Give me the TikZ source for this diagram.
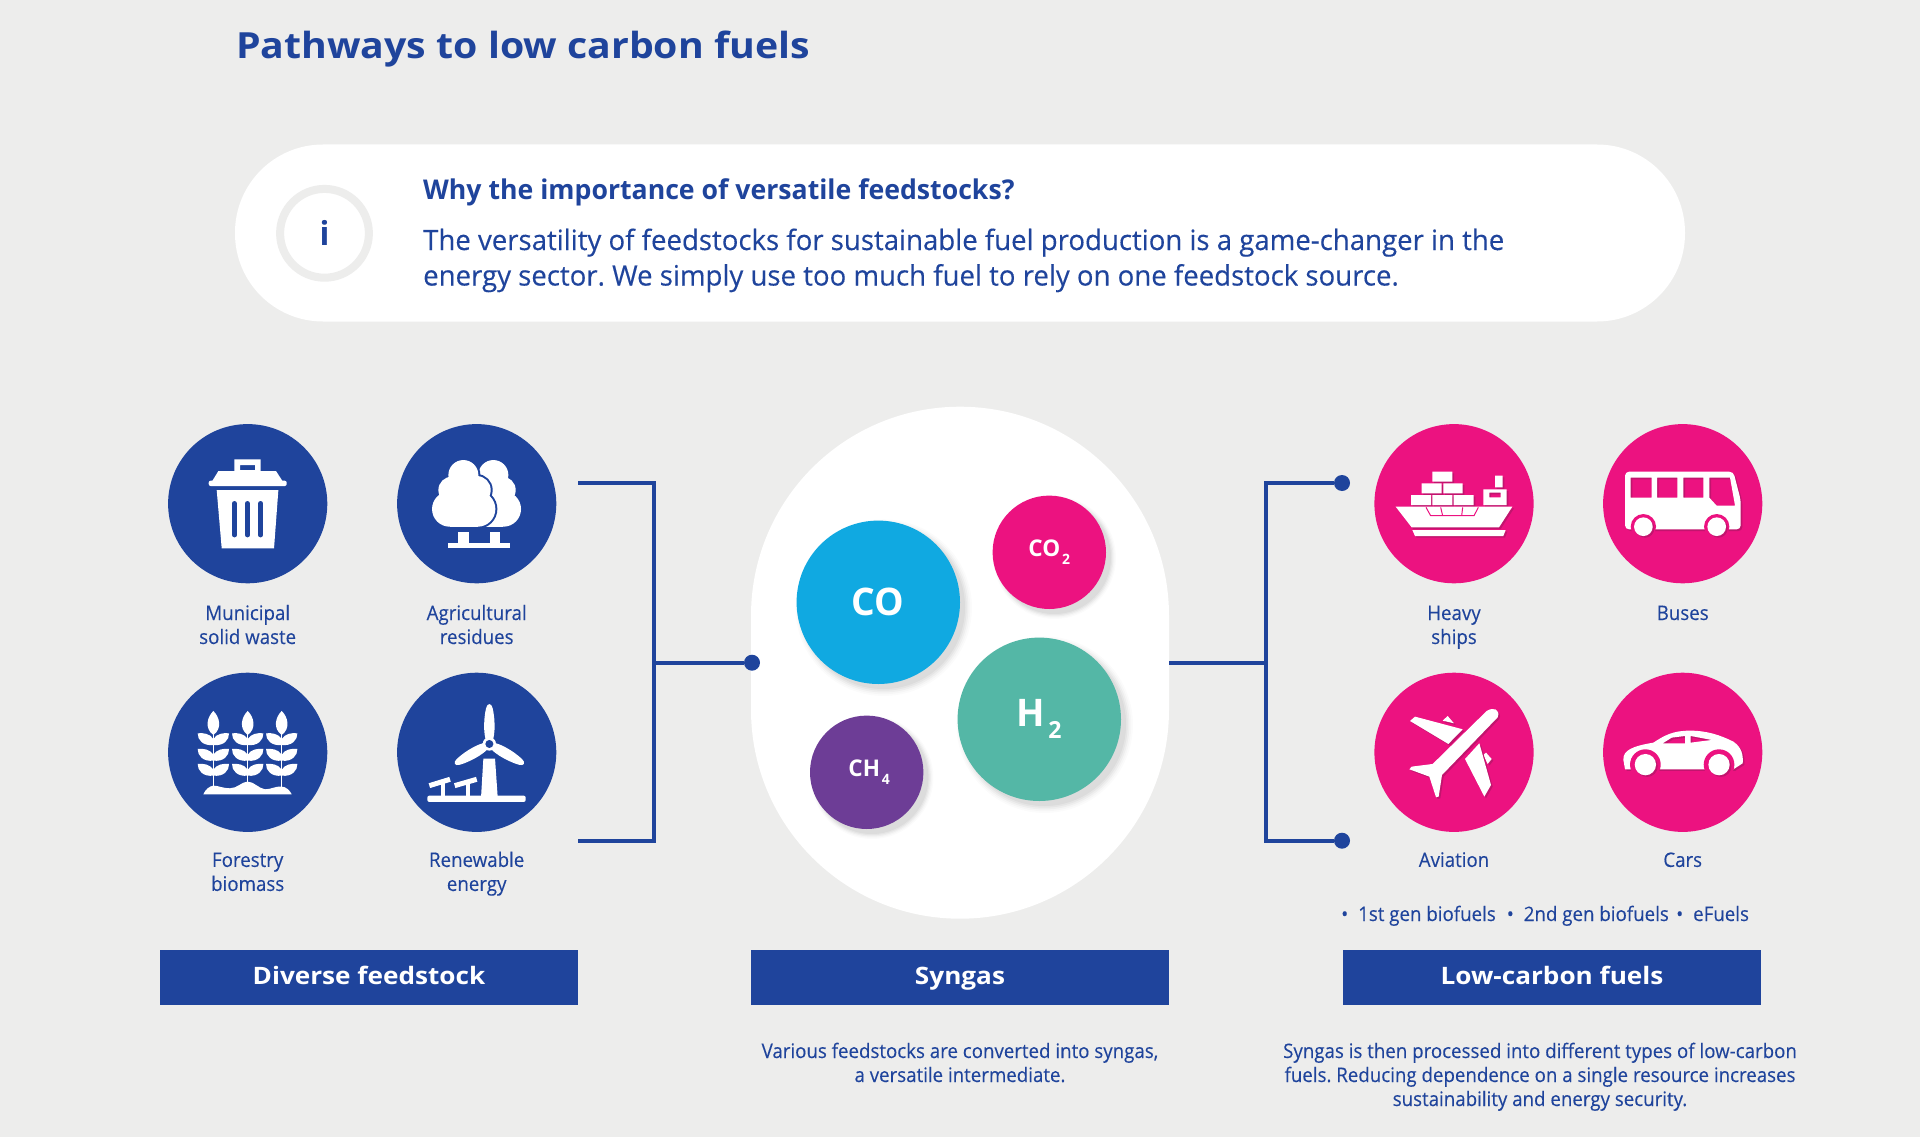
\documentclass[tikz,border=0pt]{standalone}
\usepackage{fontspec}
\setmainfont{Open Sans}
\newfontfamily\headfont[FakeStretch=1.09]{Open Sans}
\newfontfamily\infofont[FakeStretch=0.98]{Open Sans}
\newfontfamily\answerfont[FakeStretch=0.985, FakeBold=0.25]{Open Sans}
\newfontfamily\capfont[FakeStretch=0.935, FakeBold=0.2]{Open Sans}
\usetikzlibrary{positioning, shadows, calc}

\definecolor{brandblue}{HTML}{1F449C}
\definecolor{brandpink}{HTML}{EC1280}
\definecolor{iconshade}{HTML}{C2146E}
\definecolor{skyblue}{HTML}{10A9E1}
\definecolor{seagreen}{HTML}{54B7A6}
\definecolor{deeppurple}{HTML}{6D3D96}
\definecolor{pagegrey}{HTML}{EDEDEC}

% white icon with a dark copy behind it
\newcommand{\liftedicon}[1]{\fill[iconshade, shift={(5,5)}, even odd rule] #1; \fill[white, even odd rule] #1;}
\newcommand{\gassub}[1]{\kern.08em\raisebox{-.32em}{\scalebox{.62}{#1}}}
\newcommand{\fuelbullet}{\makebox[17pt][l]{•}}

\begin{document}
\frenchspacing
\begin{tikzpicture}[
    x=1pt, y=-1pt,
    feedcircle/.style={circle, fill=brandblue, minimum size=159.2pt, inner sep=0pt, outer sep=0pt},
    fuelcircle/.style={circle, fill=brandpink, minimum size=159.2pt, inner sep=0pt, outer sep=0pt},
    softshadow/.style={
        general shadow={shadow xshift=5pt, shadow yshift=-5pt, shadow scale=1.08, fill=black, opacity=.015},
        general shadow={shadow xshift=5pt, shadow yshift=-5pt, shadow scale=1.06, fill=black, opacity=.02},
        general shadow={shadow xshift=5pt, shadow yshift=-5pt, shadow scale=1.04, fill=black, opacity=.03},
        general shadow={shadow xshift=5pt, shadow yshift=-5pt, shadow scale=1.02, fill=black, opacity=.035},
        general shadow={shadow xshift=5pt, shadow yshift=-5pt, shadow scale=1, fill=black, opacity=.04}},
    largegas/.style={circle, softshadow, minimum size=163.4pt, inner sep=0pt, outer sep=0pt, text=white, font=\fontsize{38}{38}\selectfont\infofont\bfseries},
    smallgas/.style={circle, softshadow, minimum size=113.4pt, inner sep=0pt, outer sep=0pt, text=white, font=\fontsize{23}{23}\selectfont\infofont\bfseries},
    caption/.style={align=center, text=brandblue, inner sep=0pt, font=\fontsize{20}{24}\selectfont\capfont},
    banner/.style={rectangle, fill=brandblue, text=white, minimum width=418pt, minimum height=55pt, inner sep=0pt, outer sep=0pt, text height=18pt, text depth=5pt, font=\fontsize{24}{24}\selectfont\headfont\bfseries},
    hubdot/.style={circle, fill=brandblue, minimum size=16pt, inner sep=0pt, outer sep=0pt},
    link/.style={draw=brandblue, line width=4pt},
]
\fill[pagegrey] (0,0) rectangle (1920,1137);
\useasboundingbox (0,0) rectangle (1920,1137);

% Heading
\node[anchor=base west, inner sep=0pt, text=brandblue, font=\fontsize{36}{36}\selectfont\headfont\bfseries] (heading) at (236,58.7) {Pathways to low carbon fuels};

% Info box
\node[rectangle, fill=white, rounded corners=88pt, minimum width=1450pt, minimum height=177pt, inner sep=0pt] (infobox) at (960,233) {};
\node[circle, fill=white, draw=pagegrey, line width=8pt, minimum size=88.8pt, inner sep=0pt, text=brandblue, font=\fontsize{33}{33}\selectfont\infofont\bfseries] (infomark) at (324.5,233.3) {i};
\node[anchor=base west, inner sep=0pt, text=brandblue, font=\fontsize{27.2}{28}\selectfont\infofont\bfseries] (question) at (423,199) {Why the importance of versatile feedstocks?};
\node[anchor=base west, inner sep=0pt, align=left, text=brandblue, font=\fontsize{28}{35.5}\selectfont\answerfont] (answer) at (423,285.5) {The versatility of feedstocks for sustainable fuel production is a game-changer in the\\energy sector. We simply use too much fuel to rely on one feedstock source.};

% Feedstock circles
\node[feedcircle] (waste) at (247.7,503.7) {};
\node[feedcircle, right=69.8pt of waste] (residues) {};
\node[feedcircle, below=89.4pt of waste] (forestry) {};
\node[feedcircle, right=69.8pt of forestry] (renewable) {};
\node[caption, below=60.7pt of waste, anchor=base] (wastetext) {Municipal\\solid waste};
\node[caption, below=60.7pt of residues, anchor=base] (residuestext) {Agricultural\\residues};
\node[caption, below=59pt of forestry, anchor=base] (forestrytext) {Forestry\\biomass};
\node[caption, below=59pt of renewable, anchor=base] (renewabletext) {Renewable\\energy};

% Bin
\begin{scope}[shift={(waste.center)}, scale=.3333, shift={(-293,-281)}]
\fill[white, even odd rule] (253,148) rectangle (332,185) (270,165) rectangle (315,180);
\fill[white] (205,183) -- (378,183) -- (398,214) -- (186,214) -- cycle;
\fill[white, rounded corners=2pt] (176,212) rectangle (410,228);
\fill[white] (200,240) -- (385,240) -- (372,415) -- (215,415) -- cycle;
\foreach \sx in {253,292,332}
    \draw[brandblue, line width=4.7pt, line cap=round] (\sx,280) -- (\sx,375);
\end{scope}

% Trees
\begin{scope}[shift={(residues.center)}, scale=.3333, shift={(-980,-281)}]
\fill[white] (1030,195) circle[radius=45] (1057,240) circle[radius=40] (1060,297) circle[radius=53];
\fill[white] (985,200) rectangle (1060,350);
\path[draw=brandblue, fill=brandblue, line width=4pt] (940,195) circle[radius=45] (980,240) circle[radius=42] (983,297) circle[radius=53];
\fill[white] (940,195) circle[radius=45] (905,240) circle[radius=40] (980,240) circle[radius=42] (899,297) circle[radius=53] (983,297) circle[radius=53] (940,255) circle[radius=35];
\fill[white] (899,297) rectangle (983,350);
\fill[white] (924,365) rectangle (956,402);
\fill[white] (1020,365) rectangle (1050,402);
\fill[white] (893,400) rectangle (1081,415);
\end{scope}

% Crops
\begin{scope}[shift={(forestry.center)}, scale=.3333, shift={(-293,-277)}]
\foreach \sx in {190,293,395} {
\begin{scope}[shift={(\sx,0)}]
\draw[white, line width=1.5pt] (0,215) -- (0,385);
\fill[white] (0,225) .. controls (-28,205) and (-18,170) .. (0,153) .. controls (18,170) and (28,205) .. (0,225) -- cycle;
\foreach \ly in {235,282,327}
    \foreach \side in {1,-1}
        \fill[white, shift={(0,\ly)}, xscale=\side] (0,20) .. controls (30,24) and (48,5) .. (47,-15) .. controls (30,-17) and (10,-14) .. (0,2) -- cycle;
\end{scope}
}
\fill[white] (160,403) .. controls (165,390) and (178,378) .. (190,377) .. controls (205,377) and (218,385) .. (240,385) .. controls (262,385) and (275,365) .. (293,365) .. controls (312,365) and (325,385) .. (345,388) .. controls (365,388) and (375,378) .. (395,380) .. controls (408,380) and (420,392) .. (425,403) -- cycle;
\end{scope}

% Wind turbine
\begin{scope}[shift={(renewable.center)}, scale=.3333, shift={(-980,-277)}]
\fill[white] (1000,296) -- (1035,296) -- (1043,412) -- (993,412) -- cycle;
\foreach \ang in {0,120,240}
    \fill[white, rotate around={\ang:(1018,252)}] (1018,262) .. controls (998,240) and (1000,180) .. (1008,145) .. controls (1012,128) and (1024,128) .. (1028,145) .. controls (1036,180) and (1038,240) .. (1018,262) -- cycle;
\fill[white] (1018,252) circle[radius=20];
\fill[brandblue] (1018,252) circle[radius=12];
\fill[white, rounded corners=2pt] (832,407) rectangle (1127,426);
\fill[white] (873,370) rectangle (885,410);
\fill[white] (947,370) rectangle (960,410);
\draw[white, line width=5pt] (838,377) -- (900,358);
\draw[white, line width=5pt] (914,377) -- (980,358);
\end{scope}

% Syngas
\node[rectangle, fill=white, rounded corners=209pt, minimum width=418pt, minimum height=512pt, inner sep=0pt, outer sep=0pt] (syngas) at (960,662.7) {};
\node[largegas, fill=skyblue] (cogas) at (878.3,602.3) {CO};
\node[smallgas, fill=brandpink] (cotwogas) at (1049.3,552.3) {CO\gassub{2}};
\node[largegas, fill=seagreen] (hydrogen) at (1039.3,719.3) {H\gassub{2}};
\node[smallgas, fill=deeppurple] (methane) at (866.7,772.3) {\hspace*{5pt}CH\gassub{4}};

% Fuel circles
\node[fuelcircle] (ships) at (1454,503.7) {};
\node[fuelcircle, right=69.5pt of ships] (buses) {};
\node[fuelcircle, below=89.4pt of ships] (aviation) {};
\node[fuelcircle, right=69.5pt of aviation] (cars) {};
\node[caption, below=60.7pt of ships, anchor=base] (shipstext) {Heavy\\ships};
\node[caption, below=36.7pt of buses, anchor=base] (busestext) {Buses};
\node[caption, below=35pt of aviation, anchor=base] (aviationtext) {Aviation};
\node[caption, below=35pt of cars, anchor=base] (carstext) {Cars};

% Ship
\begin{scope}[shift={(ships.center)}, scale=.3333, shift={(-312,-281)}]
\liftedicon{(247,185) rectangle (307,215) (215,220) rectangle (275,250) (280,220) rectangle (338,250) (183,255) rectangle (243,285) (247,255) rectangle (307,285) (311,255) rectangle (371,285) (137,290) -- (487,290) -- (447,352) -- (185,352) -- cycle (187,360) -- (467,360) -- (460,378) -- (195,378) -- cycle (400,238) rectangle (470,285) (418,248) rectangle (452,262) (435,197) rectangle (458,232)}
\draw[brandpink, line width=1pt] (228,292) -- (242,317) -- (372,317) -- (385,292) (272,292) -- (278,317) (338,292) -- (335,317);
\end{scope}

% Bus
\begin{scope}[shift={(buses.center)}, scale=.3333, shift={(-998,-281)}]
\liftedicon{[rounded corners=4pt] (825,185) -- (1150,185) -- (1172,270) -- (1172,358) -- (825,358) -- cycle [sharp corners] (842,203) rectangle (905,263) (921,203) rectangle (982,263) (1000,203) rectangle (1060,263) (1078,203) -- (1140,203) -- (1155,287) -- (1100,287) -- (1078,263) -- cycle}
\fill[brandpink] (880,350) circle[radius=38] (1100,350) circle[radius=38];
\liftedicon{(880,350) circle[radius=28] (1100,350) circle[radius=28]}
\end{scope}

% Plane
\begin{scope}[shift={(aviation.center)}, scale=.3333, shift={(-312,-277)}]
\liftedicon{(278,182) -- (293,168) -- (312,190) -- cycle (400,285) -- (408,278) -- (425,297) -- (413,312) -- cycle}
\liftedicon{(180,183) -- (195,170) -- (338,208) -- (295,252) -- cycle (345,297) -- (388,250) -- (423,375) -- (403,410) -- cycle}
\liftedicon{(410,153) .. controls (430,140) and (452,148) .. (443,172) -- (276,345) -- (266,410) -- (258,412) -- (238,350) -- (178,328) -- (185,320) -- (248,312) -- cycle}
\end{scope}

% Car
\begin{scope}[shift={(cars.center)}, scale=.3333, shift={(-998,-277)}]
\liftedicon{(820,300) .. controls (818,270) and (850,258) .. (910,248) .. controls (945,225) and (970,212) .. (1020,212) .. controls (1070,212) and (1110,225) .. (1150,245) .. controls (1175,262) and (1180,285) .. (1178,310) -- (1150,328) -- (825,328) -- cycle (938,250) -- (965,233) -- (1005,228) -- (1005,250) -- cycle (1022,228) -- (1085,240) -- (1022,248) -- cycle}
\fill[brandpink] (886,314) circle[radius=46] (1107,314) circle[radius=46];
\liftedicon{(886,314) circle[radius=32] (1107,314) circle[radius=32]}
\end{scope}

% Fuel types
\node[caption, anchor=base west] (firstgen) at (1341,921) {\fuelbullet 1st gen biofuels};
\node[caption, anchor=base west] (secondgen) at (1506.6,921) {\fuelbullet 2nd gen biofuels};
\node[caption, anchor=base west] (efuels) at (1676,921) {\fuelbullet eFuels};

% Banners
\node[banner] (feedbanner) at (369,977.5) {Diverse feedstock};
\node[banner] (syngasbanner) at (960,977.5) {Syngas};
\node[banner] (fuelbanner) at (1552,977.5) {Low-carbon fuels};
\node[caption, below=77pt of syngasbanner, anchor=base] (syngasnote) {Various feedstocks are converted into syngas,\\a versatile intermediate.};
\node[caption, below=101pt of fuelbanner, anchor=base, xshift=-12pt] (fuelnote) {Syngas is then processed into different types of low-carbon\\fuels. Reducing dependence on a single resource increases\\sustainability and energy security.};

% Connectors
\coordinate (feedupper) at (578,483);
\coordinate (feedlower) at (578,840.7);
\coordinate (feedjoin) at (654,662.7);
\coordinate (fueljoin) at (1266,662.7);
\node[hubdot] (syngasdot) at (752,662.7) {};
\node[hubdot] (upperdot) at (1342,483) {};
\node[hubdot] (lowerdot) at (1342,840.7) {};
\draw[link] (feedupper) -| (feedjoin) |- (feedlower);
\draw[link] (feedjoin) -- (syngasdot);
\draw[link] (syngas.east) -- (fueljoin);
\draw[link] (upperdot) -| (fueljoin) |- (lowerdot);
\end{tikzpicture}
\end{document}
